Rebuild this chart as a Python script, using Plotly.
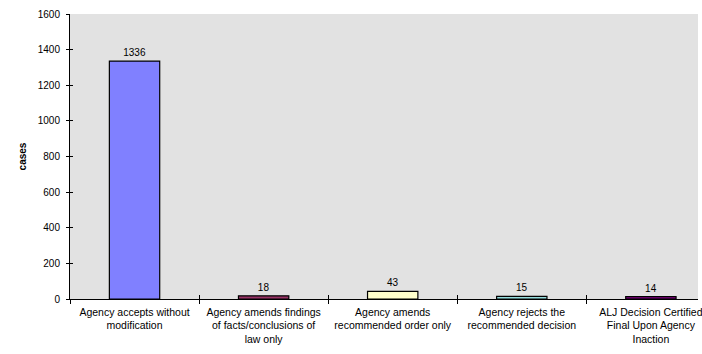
import plotly.graph_objects as go

# Outcome categories and case counts
categories = [
    "Agency accepts without<br>modification",
    "Agency amends findings<br>of facts/conclusions of<br>law only",
    "Agency amends<br>recommended order only",
    "Agency rejects the<br>recommended decision",
    "ALJ Decision Certified<br>Final Upon Agency<br>Inaction",
]
cases = [1336, 18, 43, 15, 14]
bar_colors = ["#8080FF", "#993366", "#FFFFCC", "#96DEDE", "#660066"]

y_ticks = [0, 200, 400, 600, 800, 1000, 1200, 1400, 1600]

font_family = "Liberation Sans, Arial, sans-serif"

fig = go.Figure()
fig.add_trace(go.Bar(
    x=categories,
    y=cases,
    marker=dict(color=bar_colors, line=dict(color="#000000", width=1.2)),
    width=0.39,
    text=[str(v) for v in cases],
    textposition="outside",
    textfont=dict(family=font_family, size=10, color="#000000"),
    cliponaxis=False,
    showlegend=False,
))

# Second, overlaid axes carry the inner half of the crossing tick marks
fig.add_trace(go.Scatter(x=categories, y=cases, xaxis="x2", yaxis="y2",
                         mode="markers", marker=dict(opacity=0),
                         hoverinfo="skip", showlegend=False))

x_range = [-0.5, 4.365]

fig.update_layout(
    width=702,
    height=354,
    margin=dict(l=70, r=0, t=14, b=55),
    paper_bgcolor="#FFFFFF",
    plot_bgcolor="#E2E2E2",
    font=dict(family=font_family, size=10, color="#000000"),
    bargap=0.61,
    xaxis=dict(
        type="category",
        range=x_range,
        showline=True, linecolor="#000000", linewidth=1,
        ticks="outside", ticklen=4, tickcolor="#000000", tickwidth=1,
        tickson="boundaries",
        showgrid=False, zeroline=False,
        tickfont=dict(size=10.5, color="#000000"),
        tickangle=0,
        ticklabelstandoff=3,
    ),
    yaxis=dict(
        range=[0, 1600],
        tickvals=y_ticks,
        showline=True, linecolor="#000000", linewidth=1,
        ticks="outside", ticklen=3, tickcolor="#000000", tickwidth=1,
        showgrid=False, zeroline=False,
        tickfont=dict(size=10, color="#000000"),
        ticklabelstandoff=4,
        title=dict(text="<b>cases</b>", font=dict(size=10, color="#000000"), standoff=9),
    ),
    xaxis2=dict(
        type="category", overlaying="x", matches=None, range=x_range,
        ticks="inside", ticklen=4, tickcolor="#000000", tickwidth=1,
        tickson="boundaries", showticklabels=False, showgrid=False,
        zeroline=False, showline=False, anchor="y2", side="bottom",
    ),
    yaxis2=dict(
        overlaying="y", range=[0, 1600], tickvals=y_ticks,
        ticks="inside", ticklen=3, tickcolor="#000000", tickwidth=1,
        showticklabels=False, showgrid=False, zeroline=False,
        showline=False, anchor="x2", side="left",
    ),
)

fig.write_html("out.html")
